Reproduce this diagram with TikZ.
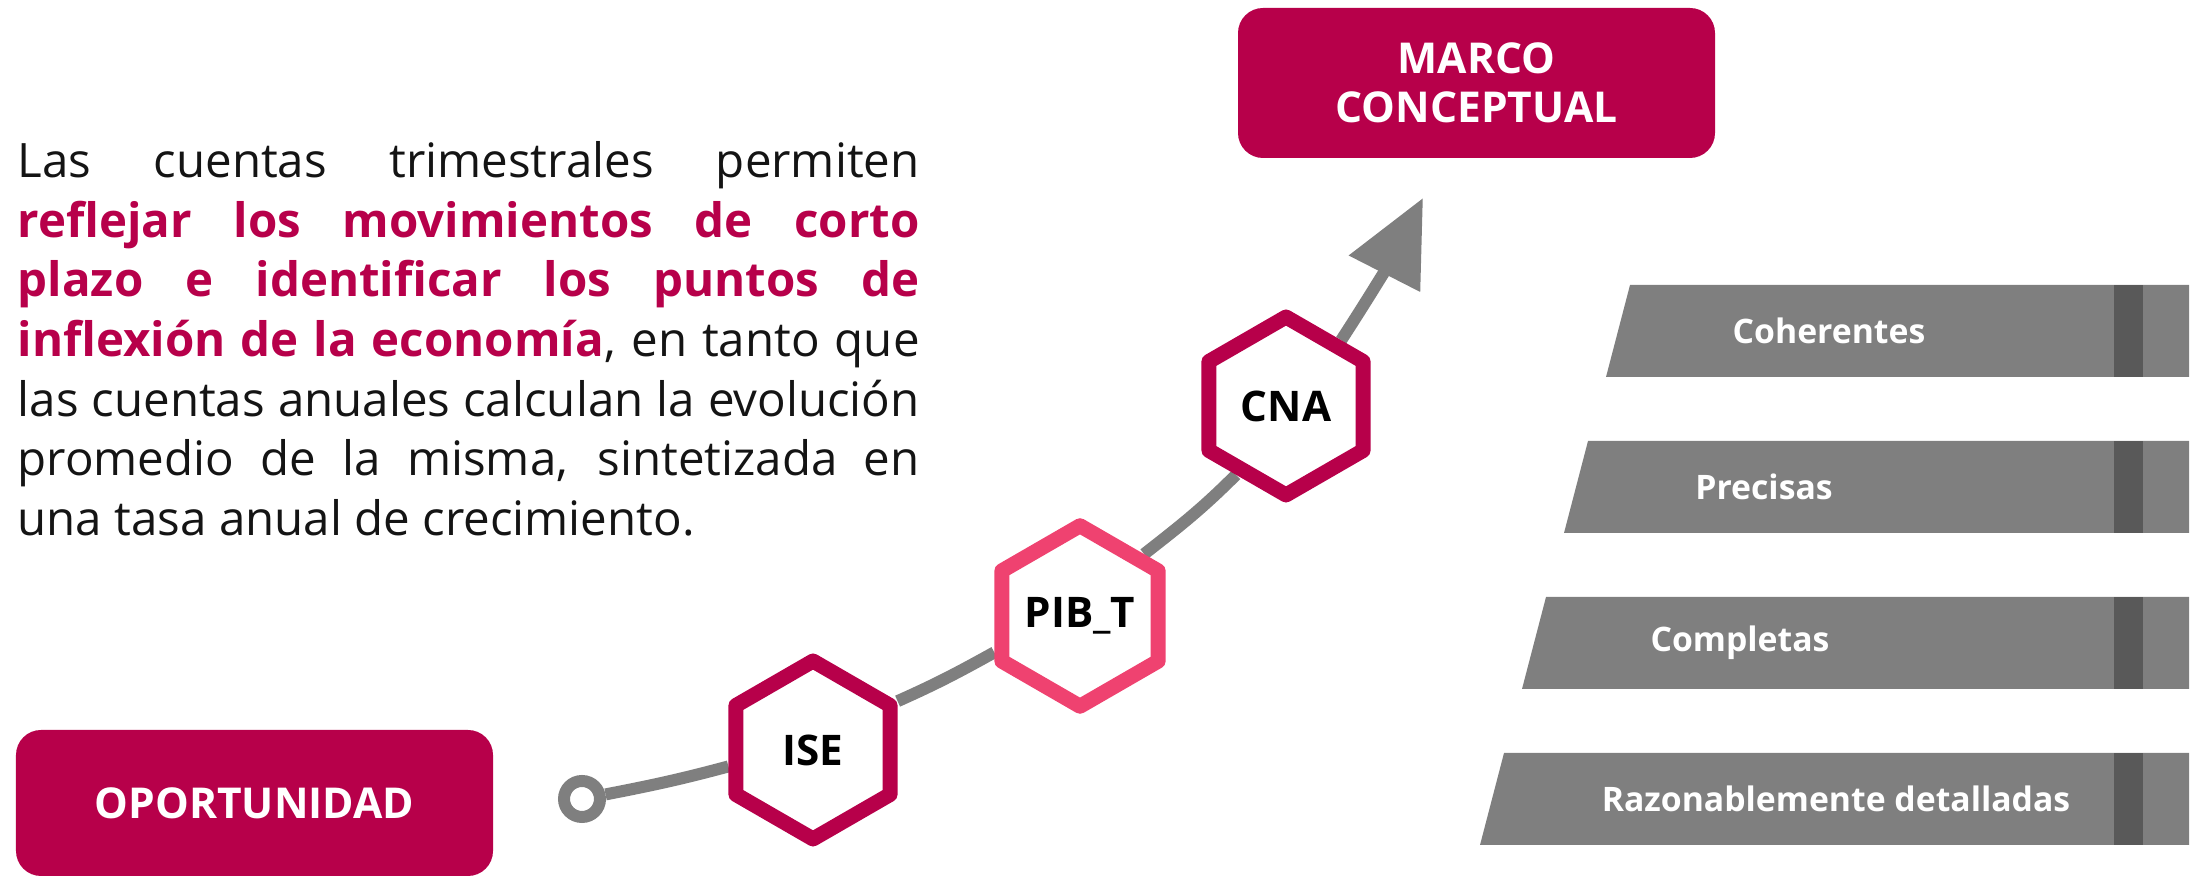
\documentclass[tikz,border=0pt]{standalone}
\usepackage{fontspec}
\setmainfont{Open Sans}
\usetikzlibrary{shapes.geometric,arrows.meta,backgrounds}
\definecolor{vino}{HTML}{B7004A}
\definecolor{rosa}{HTML}{EF4270}
\definecolor{gris}{HTML}{7F7F7F}
\definecolor{grisosc}{HTML}{595959}

\begin{document}
\begin{tikzpicture}[
  caja/.style={fill=vino, rounded corners=0.25cm, text=white, align=center, inner sep=0pt,
    font=\bfseries\fontsize{12.1}{13.9}\selectfont},
  hexa/.style={regular polygon, regular polygon sides=6, shape border rotate=30,
    minimum size=1.78cm, inner sep=0pt, line width=0.15cm, line join=round,
    draw=vino, fill=white, font=\bfseries\fontsize{12}{14}\selectfont},
  etiqueta/.style={text=white, inner sep=0pt, font=\bfseries\fontsize{9.6}{12}\selectfont},
  curva/.style={gris, line width=0.12cm}
]
\useasboundingbox (0,0) rectangle (21.99,8.78);

% texto de la izquierda
\node[anchor=north west, inner sep=0pt, text width=9.02cm, align=justify,
      font=\fontsize{13.5}{16.95}\selectfont, text=black!92] (texto) at (0.17,7.37)
 {\tolerance=10000 \hyphenpenalty=10000
  Las cuentas trimestrales permiten\linebreak
  \textcolor{vino}{\textbf{reflejar los movimientos de corto\linebreak
  plazo e identificar los puntos de\linebreak
  inflexión de la economía}}, en tanto que\linebreak
  las cuentas anuales calculan la evolución\linebreak
  promedio de la misma, sintetizada en\linebreak
  una tasa anual de crecimiento.};

\node[caja, minimum width=4.77cm, minimum height=1.50cm] (marco) at (14.765,7.95) {MARCO\\CONCEPTUAL};
\node[caja, minimum width=4.77cm, minimum height=1.46cm] (oportunidad) at (2.545,0.75) {OPORTUNIDAD};

% hexagonos
\node[hexa] (ise) at (8.13,1.28) {ISE};
\node[hexa, draw=rosa] (pibt) at (10.80,2.62) {PIB\_T};
\node[hexa] (cna) at (12.86,4.72) {CNA};

\node[circle, draw=gris, line width=0.12cm, minimum size=0.36cm, inner sep=0pt] (inicio) at (5.82,0.79) {};
\coordinate (punta) at (14.23,6.80);

\begin{scope}[on background layer]
\draw[curva] (inicio) to[out=11,in=195] (ise.191);
\draw[curva] (ise.30) to[out=24,in=209] (pibt.203);
\draw[curva] (pibt.44) to[out=38,in=225] (cna.234);
\draw[curva, -{Triangle[length=0.85cm,width=0.77cm]}] (cna.50) to[out=57,in=243] (punta);
\end{scope}

% barras
\foreach \i/\txt/\xt in {0/Coherentes/18.29, 1/Precisas/17.64, 2/Completas/17.40, 3/Razonablemente detalladas/18.36} {
  \pgfmathsetmacro{\yt}{8.78-2.85-1.56*\i}
  \pgfmathsetmacro{\xl}{16.30-0.42*\i}
  \fill[gris] (\xl,\yt) -- (21.89,\yt) -- (21.89,\yt-0.92) -- (\xl-0.24,\yt-0.92) -- cycle;
  \fill[grisosc] (21.14,\yt) rectangle (21.43,\yt-0.92);
  \node[etiqueta] (barra\i) at (\xt,\yt-0.46) {\txt};
}
\end{tikzpicture}
\end{document}
